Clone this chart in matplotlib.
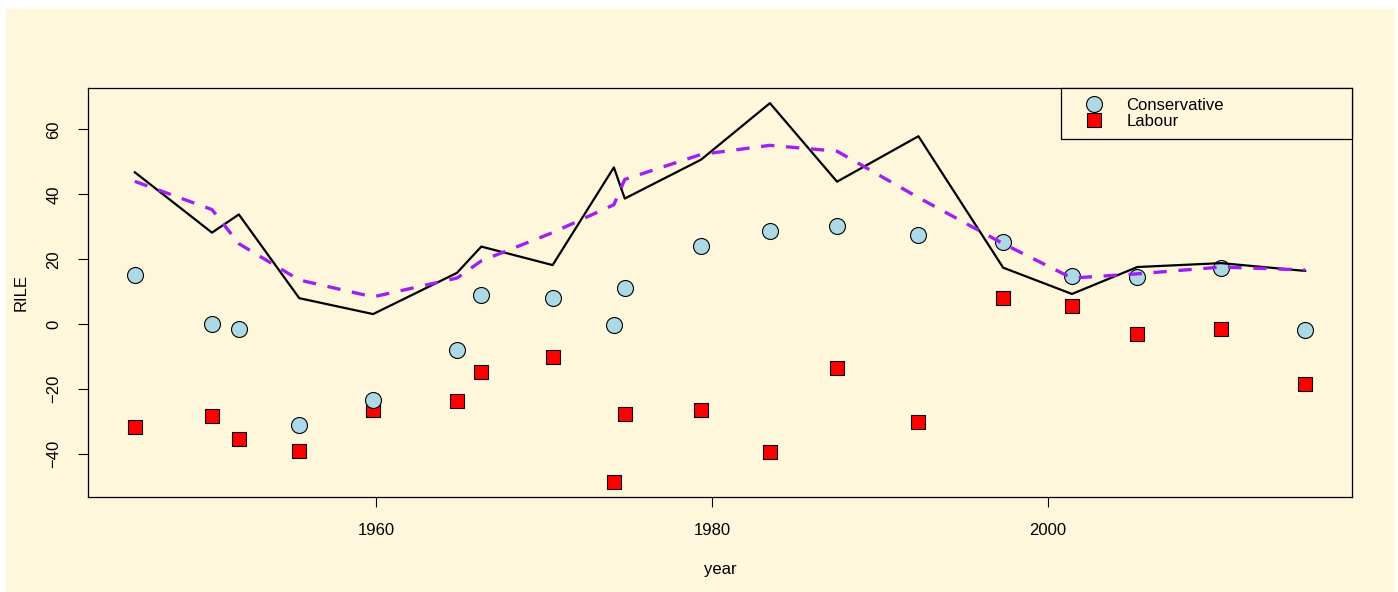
import numpy as np
import matplotlib
matplotlib.use('Agg')
from matplotlib import pyplot as plt
from matplotlib.patches import Rectangle

plt.rcParams['font.family'] = ['Liberation Sans', 'DejaVu Sans']

# election dates and left-right (RILE) scores
year = [1945.6, 1950.2, 1951.8, 1955.4, 1959.8, 1964.8, 1966.25, 1970.5,
        1974.15, 1974.8, 1979.35, 1983.45, 1987.45, 1992.3, 1997.35,
        2001.45, 2005.35, 2010.35, 2015.35]
con = [15.2, 0.0, -1.5, -31.0, -23.5, -8.0, 9.0, 8.0, -0.3, 11.1, 24.1,
       28.8, 30.3, 27.6, 25.4, 14.9, 14.5, 17.3, -1.9]
lab = [-31.6, -28.2, -35.3, -39.0, -26.6, -23.8, -14.9, -10.2, -48.6, -27.6,
       -26.6, -39.3, -13.6, -30.3, 8.0, 5.6, -3.1, -1.5, -18.3]
# smoothed gap between the two parties
smooth = [44.0, 35.3, 24.8, 13.6, 8.4, 14.2, 19.5, 28.2, 36.8, 44.6, 52.3,
          55.1, 53.3, 39.0, 24.8, 14.2, 15.5, 17.6, 16.7]

gap = np.array(con) - np.array(lab)

bg = '#fff7dc'
fig = plt.figure(figsize=(13.98, 5.92), dpi=100, facecolor='white')
fig.patches.append(Rectangle((6/1398, 0), 1388/1398, 583/592,
                             transform=fig.transFigure, color=bg, zorder=-1))
ax = fig.add_axes([88/1398, 1-497/592, 1264/1398, 409/592])
ax.set_facecolor(bg)

ax.plot(year, lab, 's', ms=10, mfc='red', mec='black', mew=0.8,
        label='Labour', zorder=2)
ax.plot(year, con, 'o', ms=11.5, mfc='lightblue', mec='black', mew=0.8,
        label='Conservative', zorder=3)
ax.plot(year, gap, '-', color='black', lw=1.6, zorder=4)
ax.plot(year, smooth, color='#a020f0', lw=2.4, ls=(0, (4, 3.5)), zorder=5)

ax.margins(x=0.04, y=0.04)
ax.set_xticks([1960, 1980, 2000])
ax.set_yticks([-40, -20, 0, 20, 40, 60])
ax.tick_params(axis='both', direction='out', length=7, width=0.8,
               labelsize=12, colors='black')
ax.tick_params(axis='x', pad=12)
ax.tick_params(axis='y', pad=12, labelrotation=90)
for t in ax.get_yticklabels():
    t.set_verticalalignment('center')
for s in ax.spines.values():
    s.set_color('black')
    s.set_linewidth(0.9)

ax.set_xlabel('year', fontsize=12, labelpad=17)
ax.set_ylabel('RILE', fontsize=12, labelpad=13)

h, l = ax.get_legend_handles_labels()
leg = ax.legend(h[::-1], l[::-1], loc='upper left',
                bbox_to_anchor=(973/1264, 0, 291/1264, 1.0), mode='expand',
                fontsize=12, frameon=True, fancybox=False, framealpha=1,
                facecolor=bg, edgecolor='black', borderaxespad=0,
                borderpad=0.6, labelspacing=0.04, handlelength=2.7,
                handletextpad=0.63)
leg.get_frame().set_linewidth(0.9)

fig.savefig('out.png', dpi=100, facecolor='white')
